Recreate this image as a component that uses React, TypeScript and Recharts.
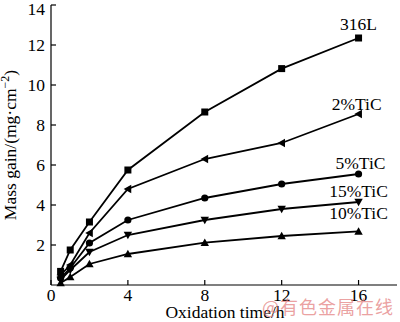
import React from 'react';
import { LineChart, Line, XAxis, YAxis, ReferenceDot } from 'recharts';

// ---- data ----
const times = [0.5, 1, 2, 4, 8, 12, 16];
const s316L = [0.68, 1.75, 3.15, 5.75, 8.65, 10.82, 12.35];
const tic2 = [0.5, 1.0, 2.6, 4.8, 6.3, 7.1, 8.55];
const tic5 = [0.35, 0.85, 2.1, 3.25, 4.35, 5.05, 5.55];
const tic15 = [0.25, 0.75, 1.65, 2.5, 3.25, 3.8, 4.15];
const tic10 = [0.1, 0.4, 1.05, 1.55, 2.12, 2.45, 2.68];

const xTicks = [0, 4, 8, 12, 16];
const yTicks = [2, 4, 6, 8, 10, 12, 14];

const seriesNames = ['316L', '2%TiC', '5%TiC', '15%TiC', '10%TiC'];
const seriesKeys = ['s316L', 'tic2', 'tic5', 'tic15', 'tic10'];
const seriesMarkers = ['square', 'triangleLeft', 'circle', 'triangleDown', 'triangleUp'];

// annotation anchors (data space)
const labelX = [16.0, 15.9, 16.1, 16.0, 16.0];
const labelY = [13.05, 9.05, 6.12, 4.7, 3.62];

const data = times.map((t, i) => ({
  t,
  s316L: s316L[i],
  tic2: tic2[i],
  tic5: tic5[i],
  tic15: tic15[i],
  tic10: tic10[i],
}));

const FONT = '"Liberation Serif", "DejaVu Serif", serif';

const makeDot = (kind: string) => (props: any) => {
  const { cx, cy, index } = props;
  if (cx == null || cy == null) return <g key={index} />;
  const k = `${kind}-${index}`;
  if (kind === 'square') {
    return <rect key={k} x={cx - 3.5} y={cy - 3.5} width={7} height={7} fill="#000" />;
  }
  if (kind === 'circle') {
    return <circle key={k} cx={cx} cy={cy} r={3.6} fill="#000" />;
  }
  const s = 4.2;
  let pts = '';
  if (kind === 'triangleUp') pts = `${cx},${cy - s} ${cx - s},${cy + s * 0.8} ${cx + s},${cy + s * 0.8}`;
  if (kind === 'triangleDown') pts = `${cx},${cy + s} ${cx - s},${cy - s * 0.8} ${cx + s},${cy - s * 0.8}`;
  if (kind === 'triangleLeft') pts = `${cx - s},${cy} ${cx + s * 0.8},${cy - s} ${cx + s * 0.8},${cy + s}`;
  return <polygon key={k} points={pts} fill="#000" />;
};

const XTick = (props: any) => {
  const { x, y, payload } = props;
  return (
    <text x={x} y={y} dy={13} textAnchor="middle" fontFamily={FONT} fontSize={17.5} fill="#000">
      {payload.value}
    </text>
  );
};

const YTick = (props: any) => {
  const { x, y, payload } = props;
  return (
    <text x={x} y={y} dy={6} textAnchor="end" fontFamily={FONT} fontSize={17.5} fill="#000">
      {payload.value}
    </text>
  );
};

const YLabel = (props: any) => {
  const vb = props.viewBox || { x: 0, y: 5, width: 51, height: 280 };
  const cy = vb.y + vb.height / 2;
  return (
    <text
      transform={`translate(16, ${cy}) rotate(-90)`}
      textAnchor="middle"
      fontFamily={FONT}
      fontSize={17.5}
      fill="#000"
    >
      Mass gain/(mg·cm
      <tspan dy={-7} fontSize={12}>−2</tspan>
      <tspan dy={7}>)</tspan>
    </text>
  );
};

const XLabel = (props: any) => {
  const vb = props.viewBox || { x: 51, y: 285, width: 346, height: 37 };
  return (
    <text
      x={vb.x + vb.width / 2 + 1}
      y={318}
      textAnchor="middle"
      fontFamily={FONT}
      fontSize={17.5}
      fill="#000"
    >
      Oxidation time/h
    </text>
  );
};

export default function App() {
  return (
    <div style={{ position: 'absolute', left: 0, top: 0, width: 400, height: 322, background: '#fff' }}>
      <LineChart
        width={400}
        height={322}
        data={data}
        margin={{ top: 5, right: 3, left: 0, bottom: 0 }}
      >
        <XAxis
          xAxisId="b"
          dataKey="t"
          type="number"
          domain={[0, 18]}
          ticks={xTicks}
          height={37}
          tickSize={-5}
          tickMargin={8}
          tick={<XTick />}
          stroke="#000"
          strokeWidth={1.2}
          label={<XLabel />}
        />
        <XAxis
          xAxisId="t"
          orientation="top"
          dataKey="t"
          type="number"
          domain={[0, 18]}
          height={0}
          tick={false}
          tickLine={false}
          stroke="#000"
          strokeWidth={1.2}
        />
        <YAxis
          yAxisId="l"
          type="number"
          domain={[0, 14]}
          ticks={yTicks}
          width={51}
          tickSize={-5}
          tickMargin={11}
          tick={<YTick />}
          stroke="#000"
          strokeWidth={1.2}
          label={<YLabel />}
        />
        <YAxis
          yAxisId="r"
          orientation="right"
          type="number"
          domain={[0, 14]}
          width={0}
          tick={false}
          tickLine={false}
          stroke="#000"
          strokeWidth={1.2}
        />
        {seriesKeys.map((k, i) => (
          <Line
            key={k}
            xAxisId="b"
            yAxisId="l"
            dataKey={k}
            type="linear"
            stroke="#000"
            strokeWidth={1.8}
            dot={makeDot(seriesMarkers[i])}
            activeDot={false}
            isAnimationActive={false}
          />
        ))}
        {seriesNames.map((n, i) => (
          <ReferenceDot
            key={n}
            xAxisId="b"
            yAxisId="l"
            x={labelX[i]}
            y={labelY[i]}
            r={0}
            stroke="none"
            fill="none"
            ifOverflow="visible"
            label={{
              value: n,
              position: 'center',
              fontFamily: FONT,
              fontSize: 17.5,
              fill: '#000',
            }}
          />
        ))}
      </LineChart>
      <div
        style={{
          position: 'absolute',
          left: 262,
          top: 295,
          fontFamily: '"Noto Sans CJK SC", sans-serif',
          fontSize: 18,
          lineHeight: '22px',
          letterSpacing: 1,
          color: 'rgba(226, 120, 120, 0.7)',
          whiteSpace: 'nowrap',
        }}
      >
        @有色金属在线
      </div>
    </div>
  );
}
